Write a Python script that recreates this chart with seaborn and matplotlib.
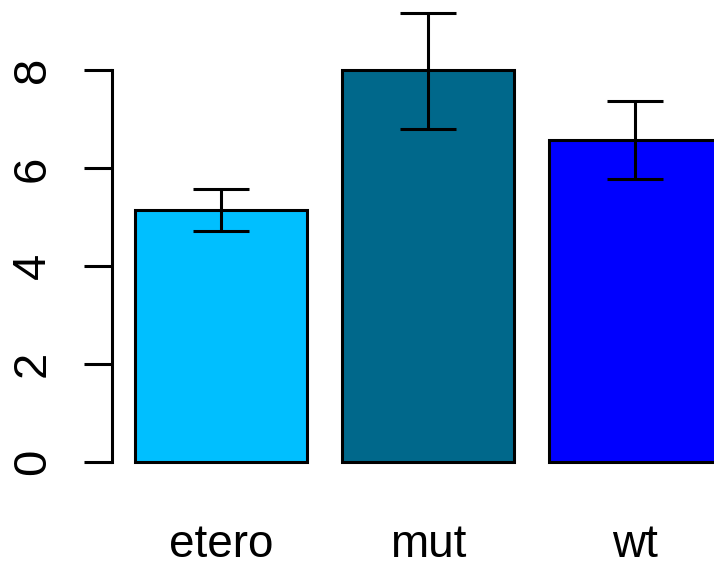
import numpy as np
import pandas as pd
import matplotlib
matplotlib.use("Agg")
import matplotlib.pyplot as plt
import seaborn as sb

groups = ["etero", "mut", "wt"]
means = [5.15, 8.0, 6.58]
lower = [4.72, 6.80, 5.79]
upper = [5.58, 9.16, 7.37]
colors = ["#00BFFF", "#00688B", "#0000FF"]
yticks = [0, 2, 4, 6, 8]

sb.set_theme(style="white")
plt.rcParams["font.family"] = ["Liberation Sans", "DejaVu Sans"]

df = pd.DataFrame({"group": groups, "mean": means})

fig = plt.figure(figsize=(7.14, 5.66), dpi=100)
ax = fig.add_axes([0, 86 / 566, 1, 480 / 566])

sb.barplot(data=df, x="group", y="mean", hue="group", palette=colors,
           legend=False, width=1 / 1.2, edgecolor="black", linewidth=2.2,
           errorbar=None, saturation=1, ax=ax)

m = np.array(means)
yerr = [m - np.array(lower), np.array(upper) - m]
ax.errorbar(np.arange(len(groups)), m, yerr=yerr, fmt="none", ecolor="black",
            elinewidth=2.2, capsize=20, capthick=2.2, zorder=5)

# pixel layout like the R barplot
ax.set_xlim(-1.0676, 2.3816)
ax.set_ylim(-0.361, 9.435)
ax.set_facecolor("none")

for s in ["top", "right", "bottom"]:
    ax.spines[s].set_visible(False)
ax.spines["left"].set_position(("data", -0.5266))
ax.spines["left"].set_bounds(0, 8)
ax.spines["left"].set_linewidth(2.2)
ax.spines["left"].set_color("black")

ax.set_yticks(yticks)
ax.set_yticklabels([str(t) for t in yticks])
ax.tick_params(axis="y", left=True, length=20, width=2.2, color="black",
               labelsize=34, pad=21, labelrotation=90, labelcolor="black")
for lab in ax.get_yticklabels():
    lab.set_va("center")
ax.tick_params(axis="x", bottom=False, length=0, labelsize=33, pad=31,
               labelcolor="black")
ax.set_xlabel("")
ax.set_ylabel("")
ax.grid(False)

fig.savefig("out.png", dpi=100)
